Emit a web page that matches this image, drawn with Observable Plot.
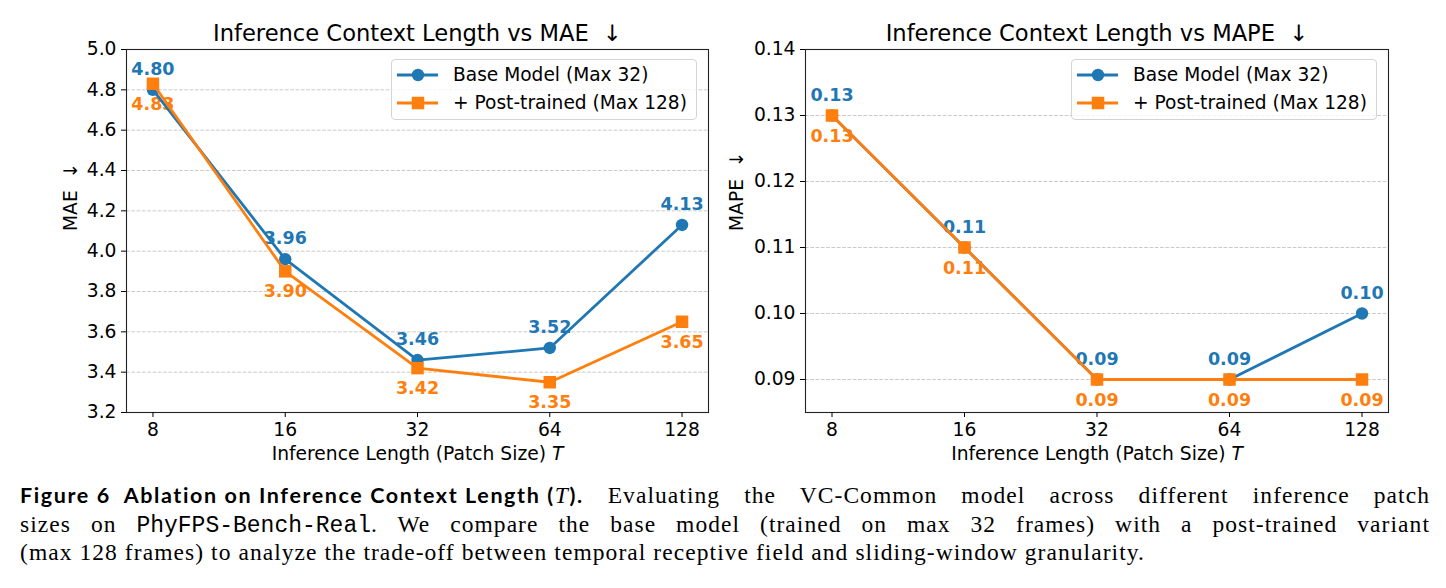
<!DOCTYPE html>
<html>
<head>
<meta charset="utf-8">
<script src="https://cdn.jsdelivr.net/npm/d3@7"></script>
<script src="https://cdn.jsdelivr.net/npm/@observablehq/plot@0.6"></script>
<style>
  html, body { margin: 0; padding: 0; background: #fff; }
  #wrap { position: relative; width: 1446px; height: 588px; overflow: hidden; }
  .panel { position: absolute; top: 0; height: 470px; }
  .legend { position: absolute; top: 59px; width: 306px; height: 61px; box-sizing: border-box;
    border: 1px solid #d4d4d4; border-radius: 4px; background: rgba(255,255,255,0.8);
    font-family: "DejaVu Sans"; font-size: 18.6px; color: #000; }
  .legend .row { position: absolute; left: 0; width: 300px; height: 20px; }
  .legend svg { position: absolute; left: 5px; top: 0; }
  .legend span { position: absolute; left: 61px; white-space: nowrap; line-height: 20px; top: 0; }
  #caption { position: absolute; left: 20px; top: 481px; width: 1410px;
    font-family: "Liberation Serif"; font-size: 23.5px; line-height: 28.5px; color: #000; }
  #caption .line { white-space: nowrap; }
  #caption .just { white-space: normal; text-align: justify; text-align-last: justify; height: 28.5px; overflow: hidden; }
  #caption .b { display: inline-block; font-family: "Lato"; font-weight: 700; font-size: 21.5px; white-space: nowrap; letter-spacing: 0; }
  #caption .tt { font-family: "Liberation Mono"; font-size: 23px; letter-spacing: 0; }
</style>
</head>
<body>
<div id="wrap">
  <div id="left" class="panel" style="left:0;width:720px"></div>
  <div id="right" class="panel" style="left:720px;width:726px"></div>
  <div id="caption"></div>
</div>
<script>
// ---- data ----
const patchSizes = [8, 16, 32, 64, 128];
const seriesNames = ["Base Model (Max 32)", "+ Post-trained (Max 128)"];
const maeBase = [4.80, 3.96, 3.46, 3.52, 4.13];
const maePost = [4.83, 3.90, 3.42, 3.35, 3.65];
const mapeBase = [0.13, 0.11, 0.09, 0.09, 0.10];
const mapePost = [0.13, 0.11, 0.09, 0.09, 0.09];
const maeTicks = [3.2, 3.4, 3.6, 3.8, 4.0, 4.2, 4.4, 4.6, 4.8, 5.0];
const mapeTicks = [0.09, 0.10, 0.11, 0.12, 0.13, 0.14];
const titles = ["Inference Context Length vs MAE \u00a0\u2193", "Inference Context Length vs MAPE \u00a0\u2193"];
const yLabels = ["MAE \u00a0\u2193", "MAPE \u00a0\u2193"];
const xLabel = "Inference Length (Patch Size) T";

const BLUE = "#1f77b4", ORANGE = "#ff7f0e";

function chart(o) {
  const rows = vals => patchSizes.map((x, i) => ({x, y: vals[i]}));
  const B = rows(o.base), P = rows(o.post);
  const svg = Plot.plot({
    width: o.width, height: 470,
    marginTop: 49, marginBottom: 58, marginLeft: o.ml, marginRight: o.mr,
    style: {fontFamily: "DejaVu Sans", fontSize: "18.7px", color: "#000", background: "transparent", overflow: "visible"},
    x: {type: "log", base: 2, domain: [8 / 2 ** 0.2, 128 * 2 ** 0.2]},
    y: {domain: o.yDomain},
    marks: [
      Plot.gridY(o.yTicks, {stroke: "#b0b0b0", strokeOpacity: 0.75, strokeDasharray: "3.7,1.6", strokeWidth: 0.9}),
      Plot.text(B, {x: "x", y: "y", text: d => o.labelFmt(d.y), dy: -20.5, fill: BLUE, fontWeight: "bold", fontSize: 17.5}),
      Plot.text(P, {x: "x", y: "y", text: d => o.labelFmt(d.y), dy: 20.5, fill: ORANGE, fontWeight: "bold", fontSize: 17.5}),
      Plot.line(B, {x: "x", y: "y", stroke: BLUE, strokeWidth: 2.8}),
      Plot.dot(B, {x: "x", y: "y", r: 6.2, fill: BLUE, symbol: "circle"}),
      Plot.line(P, {x: "x", y: "y", stroke: ORANGE, strokeWidth: 2.8}),
      Plot.dot(P, {x: "x", y: "y", r: 7.05, fill: ORANGE, symbol: "square"}),
      Plot.frame({stroke: "#222", strokeWidth: 1.1}),
      Plot.axisX(patchSizes, {tickSize: 5, tickPadding: 5.5, tickFormat: d => String(d), label: null, fontSize: 18.7}),
      Plot.axisY(o.yTicks, {tickSize: 5, tickPadding: 5, tickFormat: o.tickFmt, label: null, fontSize: 18.7}),
      Plot.text([o.title], {frameAnchor: "top", lineAnchor: "middle", dy: -16, fontSize: 22.6}),
      Plot.text([o.ylabel], {frameAnchor: "left", lineAnchor: "middle", rotate: -90, dx: o.ylabelDx, fontSize: 18.7}),
      Plot.text([xLabel], {frameAnchor: "bottom", lineAnchor: "middle", dy: 42, fontSize: 18.7})
    ]
  });
  svg.querySelectorAll("text").forEach(t => {
    if (t.textContent === xLabel) {
      t.textContent = "";
      const ns = "http://www.w3.org/2000/svg";
      const a = document.createElementNS(ns, "tspan");
      a.textContent = "Inference Length (Patch Size)\u00a0";
      const b = document.createElementNS(ns, "tspan");
      b.textContent = "T";
      b.setAttribute("font-style", "italic");
      t.appendChild(a); t.appendChild(b);
    }
  });
  return svg;
}

function legend(left) {
  const el = document.createElement("div");
  el.className = "legend";
  el.style.left = left + "px";
  const colors = [BLUE, ORANGE];
  seriesNames.forEach((name, i) => {
    const top = i === 0 ? 5 : 33;
    const marker = i === 0
      ? `<circle cx="21" cy="10" r="6.2" fill="${colors[i]}"/>`
      : `<rect x="14.75" y="3.75" width="12.5" height="12.5" fill="${colors[i]}"/>`;
    const row = document.createElement("div");
    row.className = "row";
    row.style.top = top + "px";
    row.innerHTML = `<svg width="46" height="20"><line x1="0" x2="41" y1="10" y2="10" stroke="${colors[i]}" stroke-width="2.8"/>${marker}</svg><span>${name}</span>`;
    el.appendChild(row);
  });
  return el;
}

const left = document.getElementById("left");
left.appendChild(chart({width: 720, ml: 126, mr: 12, title: titles[0], ylabel: yLabels[0],
  base: maeBase, post: maePost, yDomain: [3.2, 5.0], yTicks: maeTicks,
  tickFmt: v => v.toFixed(1), labelFmt: v => v.toFixed(2), ylabelDx: -55.5}));
left.appendChild(legend(391));

const right = document.getElementById("right");
right.appendChild(chart({width: 726, ml: 85, mr: 58, title: titles[1], ylabel: yLabels[1],
  base: mapeBase, post: mapePost, yDomain: [0.085, 0.14], yTicks: mapeTicks,
  tickFmt: v => v.toFixed(2), labelFmt: v => v.toFixed(2), ylabelDx: -68}));
right.appendChild(legend(351));

const cap = document.getElementById("caption");
cap.innerHTML =
  `<div class="line just"><span class="b" id="bold">Figure 6&nbsp;&nbsp;Ablation on Inference Context Length (<i style="font-family:'Liberation Serif';font-weight:400;font-size:23.5px">T</i>).</span> Evaluating the VC-Common model across different inference patch</div>` +
  `<div class="line just">sizes on <span class="tt">PhyFPS-Bench-Real</span>. We compare the base model (trained on max 32 frames) with a post-trained variant</div>` +
  `<div class="line" id="last"><span id="lastText">(max 128 frames) to analyze the trade-off between temporal receptive field and sliding-window granularity.</span></div>`;

// fit caption widths to the reference text block
const bold = document.getElementById("bold");
const bw = bold.getBoundingClientRect().width;
const lastSpan = document.getElementById("lastText");
const natural = lastSpan.getBoundingClientRect().width;
const ls = (1125 - natural) / lastSpan.textContent.length;
cap.style.letterSpacing = ls + "px";
bold.style.letterSpacing = ((564 - bw) / bold.textContent.length) + "px";
</script>
</body>
</html>
